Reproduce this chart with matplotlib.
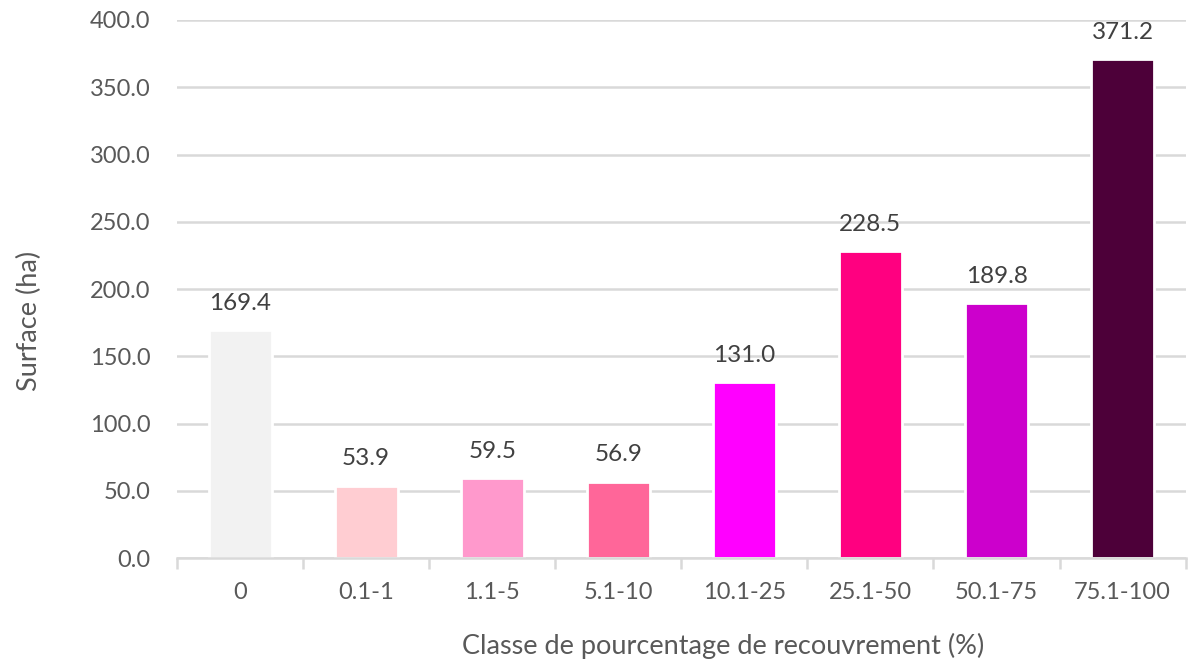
import matplotlib.pyplot as plt
from matplotlib.ticker import FixedLocator, FormatStrFormatter
import numpy as np

classes = ['0', '0.1-1', '1.1-5', '5.1-10', '10.1-25', '25.1-50', '50.1-75', '75.1-100']
surface = [169.4, 53.9, 59.5, 56.9, 131.0, 228.5, 189.8, 371.2]
colors = ['#f2f2f2', '#ffcdd2', '#ff99cc', '#ff6699', '#ff00ff', '#ff0080', '#cc00cc', '#4d0039']

grey = '#595959'
line = '#d9d9d9'
plt.rcParams['font.family'] = ['Lato', 'DejaVu Sans']

fig = plt.figure(figsize=(11.88, 6.66), dpi=100)
ax = fig.add_axes([0.149, 0.162, 0.849, 0.808])

x = np.arange(len(classes))
bars = ax.bar(x, surface, width=0.5, color=colors, edgecolor='white', linewidth=2, zorder=3)
for xi, v in zip(x, surface):
    ax.text(xi, v + 12, f'{v:.1f}', ha='center', va='bottom', fontsize=17.5, color='#404040')

ax.set_xlim(-0.5, len(classes) - 0.5)
ax.set_ylim(0, 400)
ax.set_yticks(np.arange(0, 401, 50))
ax.yaxis.set_major_formatter(FormatStrFormatter('%.1f'))
ax.grid(axis='y', color=line, linewidth=1.8, zorder=0)
ax.set_xticks(x)
ax.set_xticklabels(classes)
ax.xaxis.set_minor_locator(FixedLocator(np.arange(-0.5, len(classes), 1.0)))
ax.tick_params(axis='x', which='major', length=0, pad=17, labelsize=17, labelcolor=grey)
ax.tick_params(axis='x', which='minor', length=8, width=1.8, color=line)
ax.tick_params(axis='y', length=0, pad=19, labelsize=17, labelcolor=grey)

for s in ['top', 'right', 'left']:
    ax.spines[s].set_visible(False)
ax.spines['bottom'].set_color(line)
ax.spines['bottom'].set_linewidth(1.8)
ax.spines['bottom'].set_zorder(4)

ax.set_xlabel('Classe de pourcentage de recouvrement (%)', fontsize=19.5, color=grey, va='top')
ax.xaxis.set_label_coords(0.541, -0.139)
ax.set_ylabel('Surface (ha)', fontsize=19.5, color=grey, va='center')
ax.yaxis.set_label_coords(-0.146, 0.44)

fig.savefig('out.png', dpi=100)
